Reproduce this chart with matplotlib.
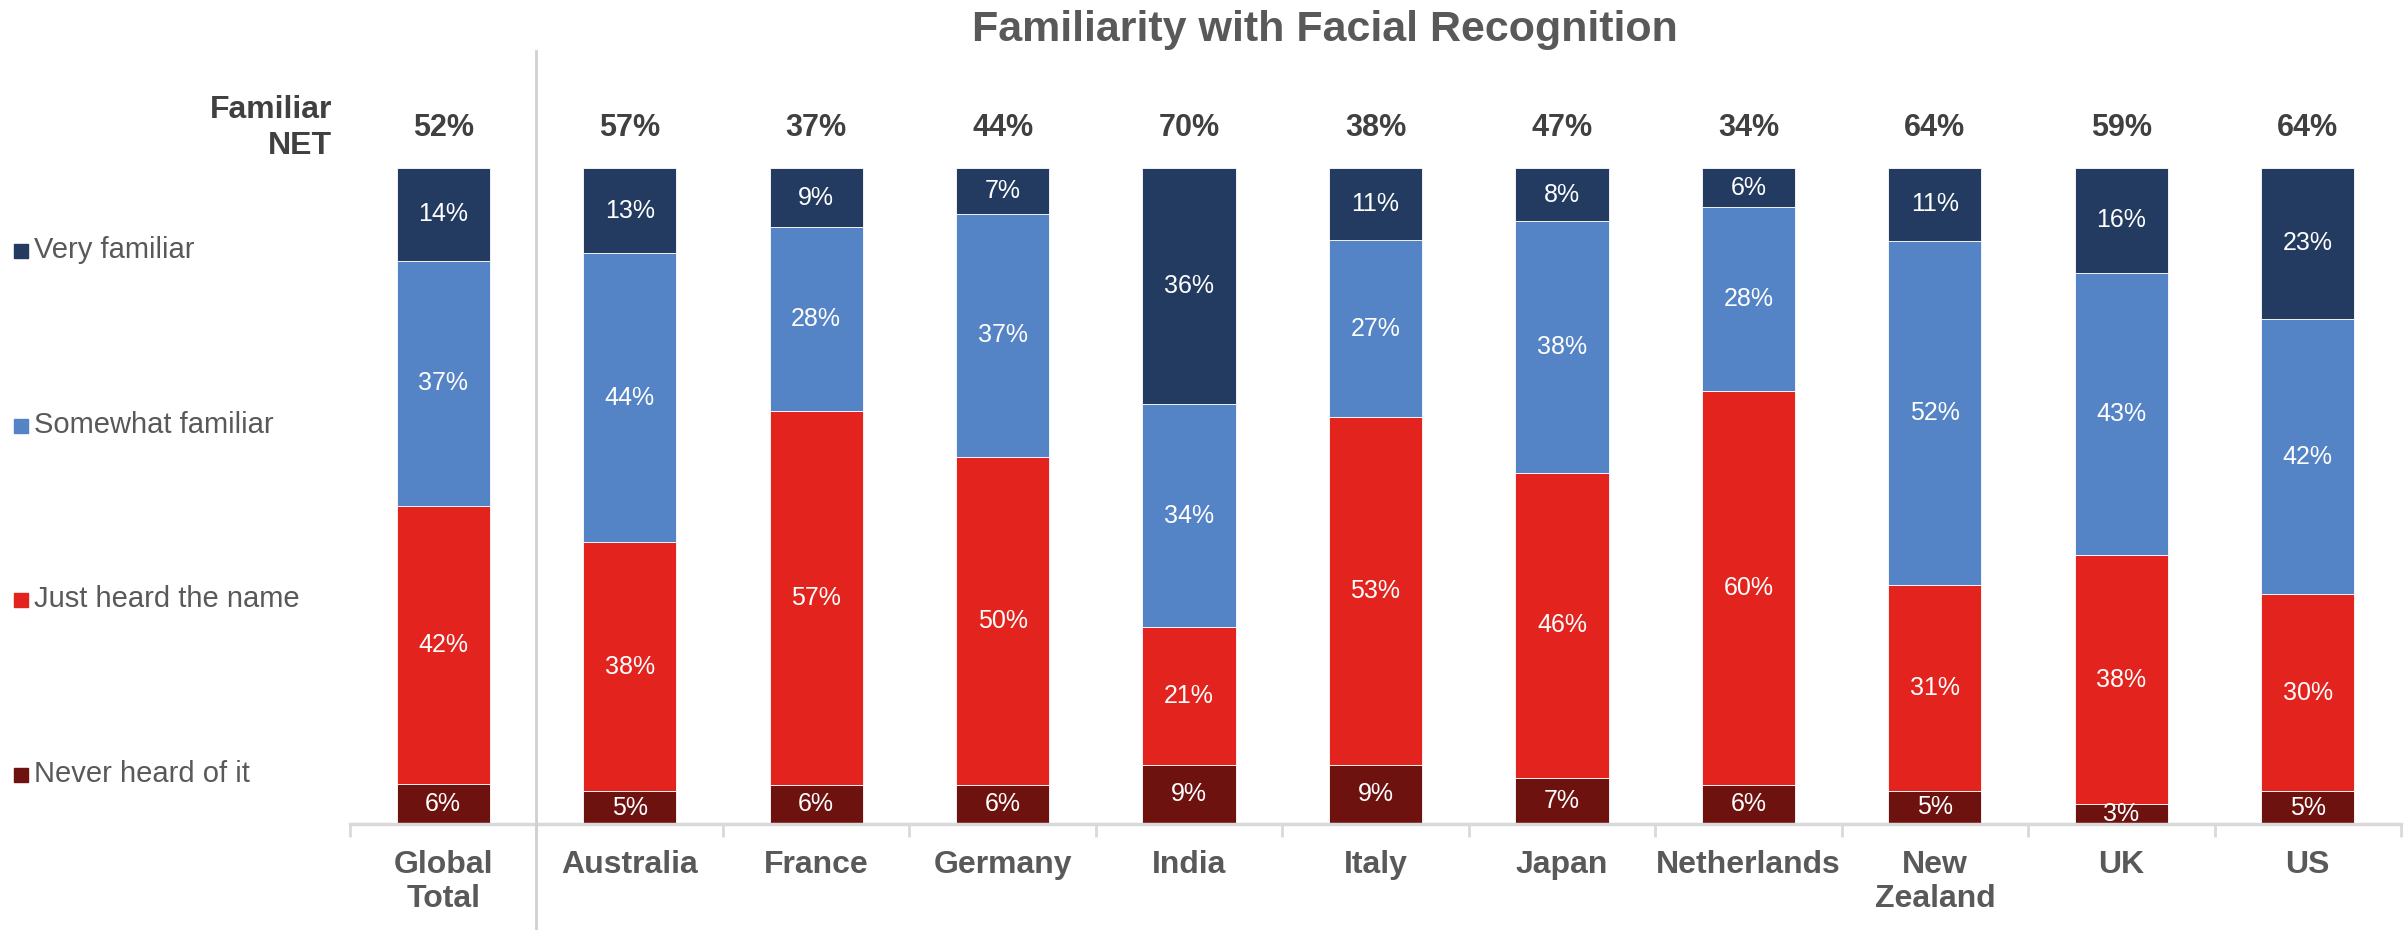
import numpy as np
import matplotlib
matplotlib.use("Agg")
import matplotlib.pyplot as plt
from matplotlib.patches import Rectangle

plt.rcParams['font.family'] = ['Liberation Sans', 'DejaVu Sans']

# data
countries = ["Global\nTotal", "Australia", "France", "Germany", "India", "Italy",
             "Japan", "Netherlands", "New\nZealand", "UK", "US"]
never_heard = [6, 5, 6, 6, 9, 9, 7, 6, 5, 3, 5]
just_heard = [42, 38, 57, 50, 21, 53, 46, 60, 31, 38, 30]
somewhat = [37, 44, 28, 37, 34, 27, 38, 28, 52, 43, 42]
very = [14, 13, 9, 7, 36, 11, 8, 6, 11, 16, 23]
familiar_net = [52, 57, 37, 44, 70, 38, 47, 34, 64, 59, 64]

series_names = ["Never heard of it", "Just heard the name", "Somewhat familiar", "Very familiar"]
series_colors = ["#6E1210", "#E2231E", "#5484C5", "#233B60"]

W, H = 2407, 930
fig = plt.figure(figsize=(W / 100, H / 100), dpi=100)
ax = fig.add_axes([350 / W, 1 - 824 / H, (2401 - 350) / W, (824 - 168) / H])

series = np.array([never_heard, just_heard, somewhat, very], dtype=float)
totals = series.sum(axis=0)
shares = series / totals * 100   # 100% stacked, as in the source chart
x = np.arange(len(countries))

bottom = np.zeros(len(countries))
for k in range(4):
    ax.bar(x, shares[k], 0.5, bottom=bottom, color=series_colors[k],
           edgecolor="white", linewidth=0.6, zorder=2)
    for i in range(len(countries)):
        ax.text(x[i], bottom[i] + shares[k][i] / 2, f"{int(series[k][i])}%",
                ha="center", va="center", color="white", fontsize=18, zorder=3)
    bottom += shares[k]

for i in range(len(countries)):
    ax.annotate(f"{familiar_net[i]}%", xy=(x[i], 100), xytext=(0, 29),
                textcoords="offset points", ha="center", va="center",
                fontsize=22, fontweight="bold", color="#404040", annotation_clip=False)

ax.set_xlim(-0.5, len(countries) - 0.5)
ax.set_ylim(0, 100)
ax.set_yticks([])
for s in ["top", "right", "left"]:
    ax.spines[s].set_visible(False)
ax.spines["bottom"].set_color("#D9D9D9")
ax.spines["bottom"].set_linewidth(2.5)
ax.spines["bottom"].set_zorder(4)

ax.set_xticks(x)
ax.set_xticklabels(countries, fontsize=23, fontweight="bold", color="#595959",
                   linespacing=1.15)
ax.tick_params(axis="x", which="major", length=0, pad=19)
ax.set_xticks(np.arange(-0.5, len(countries), 1), minor=True)
ax.tick_params(axis="x", which="minor", length=9, width=2, color="#D9D9D9")

# divider between global total and countries
fig.add_artist(plt.Line2D([536 / W, 536 / W], [0, 1 - 51 / H], color="#D0D0D0",
                          linewidth=2, transform=fig.transFigure))

fig.text(1325 / W, 1 - 30 / H, "Familiarity with Facial Recognition",
         ha="center", va="center", fontsize=31, fontweight="bold", color="#595959")

fig.text(332 / W, 1 - 110 / H, "Familiar", ha="right", va="center",
         fontsize=23, fontweight="bold", color="#404040")
fig.text(332 / W, 1 - 146 / H, "NET", ha="right", va="center",
         fontsize=23, fontweight="bold", color="#404040")

legend_y = [774, 599, 425, 250]
for k in range(4):
    fig.add_artist(Rectangle((14 / W, 1 - (legend_y[k] + 8) / H), 14 / W, 14 / H,
                             color=series_colors[k], transform=fig.transFigure))
    fig.text(34 / W, 1 - legend_y[k] / H, series_names[k], ha="left", va="center",
             fontsize=21, color="#595959")

fig.savefig("out.png", dpi=100)
